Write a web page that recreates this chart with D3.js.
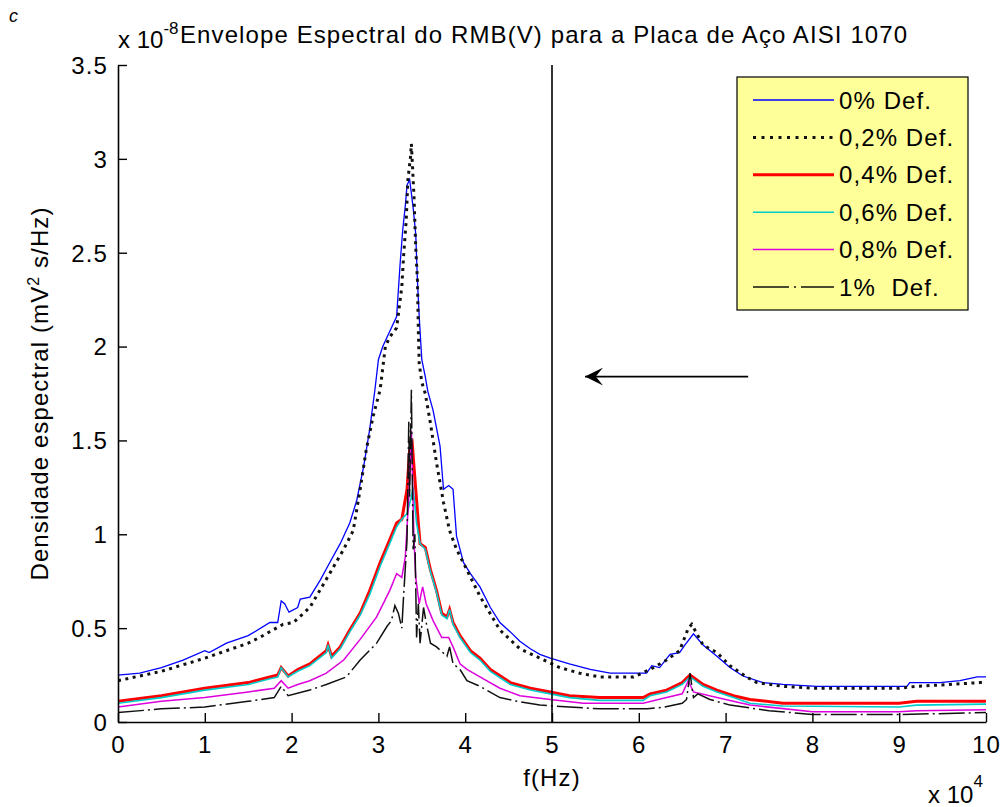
<!DOCTYPE html>
<html>
<head>
<meta charset="utf-8">
<script src="https://cdn.jsdelivr.net/npm/d3@7"></script>
<style>
  body { margin: 0; background: #fff; }
  svg { font-family: "Liberation Sans", Arial, Helvetica, sans-serif; }
  svg text { letter-spacing: 1.1px; }
</style>
</head>
<body>
<svg id="chart" width="1003" height="807"></svg>
<script>
// Frequency in units of 1e4 Hz, spectral density in units of 1e-8 mV^2 s/Hz
const labels = ["0% Def.", "0,2% Def.", "0,4% Def.", "0,6% Def.", "0,8% Def.", "1%  Def."];

const def00 = [[0,0.25],[0.25,0.26],[0.5,0.29],[0.75,0.33],[1.0,0.38],[1.05,0.37],[1.25,0.42],[1.5,0.46],[1.75,0.53],[1.84,0.53],[1.88,0.645],[1.92,0.63],[1.97,0.585],[2.07,0.61],[2.1,0.655],[2.21,0.665],[2.33,0.756],[2.44,0.85],[2.56,0.95],[2.67,1.06],[2.75,1.18],[2.83,1.36],[2.9,1.56],[2.96,1.77],[3.0,1.93],[3.05,2.0],[3.13,2.08],[3.21,2.16],[3.23,2.3],[3.25,2.44],[3.28,2.62],[3.31,2.75],[3.33,2.86],[3.36,2.89],[3.4,2.74],[3.43,2.6],[3.45,2.35],[3.47,2.16],[3.5,1.93],[3.54,1.84],[3.57,1.76],[3.63,1.66],[3.71,1.47],[3.75,1.24],[3.81,1.26],[3.86,1.24],[3.9,0.99],[3.98,0.85],[4.06,0.79],[4.17,0.72],[4.29,0.61],[4.4,0.53],[4.52,0.48],[4.63,0.43],[4.75,0.39],[4.86,0.36],[4.98,0.34],[5.2,0.31],[5.44,0.28],[5.67,0.26],[5.9,0.26],[6.09,0.26],[6.15,0.30],[6.24,0.29],[6.36,0.36],[6.47,0.37],[6.53,0.41],[6.63,0.47],[6.74,0.41],[6.9,0.35],[7.05,0.29],[7.2,0.245],[7.43,0.21],[7.66,0.2],[8.05,0.19],[9.09,0.19],[9.12,0.21],[9.47,0.21],[9.7,0.22],[9.9,0.24],[10,0.24]];

const def02 = [[0,0.22],[0.5,0.27],[1.0,0.34],[1.5,0.42],[1.63,0.45],[1.9,0.52],[2.02,0.53],[2.21,0.61],[2.4,0.76],[2.6,0.92],[2.71,1.02],[2.79,1.24],[2.86,1.45],[2.94,1.63],[3.02,1.77],[3.08,2.0],[3.13,2.05],[3.21,2.1],[3.27,2.32],[3.29,2.48],[3.32,2.67],[3.34,2.89],[3.37,3.01],[3.38,3.08],[3.41,2.8],[3.43,2.53],[3.45,2.35],[3.46,2.09],[3.47,1.91],[3.5,1.81],[3.54,1.75],[3.6,1.59],[3.67,1.38],[3.75,1.17],[3.82,1.02],[3.9,0.92],[4.02,0.81],[4.17,0.67],[4.4,0.49],[4.63,0.39],[4.86,0.34],[5.09,0.29],[5.32,0.26],[5.55,0.24],[5.94,0.24],[6.13,0.28],[6.32,0.33],[6.47,0.38],[6.57,0.5],[6.61,0.52],[6.74,0.41],[6.9,0.37],[7.05,0.3],[7.24,0.24],[7.36,0.21],[7.66,0.19],[8.0,0.18],[9.0,0.18],[9.2,0.19],[9.58,0.2],[9.93,0.21],[10,0.21]];

const def04 = [[0,0.11],[0.5,0.14],[1.0,0.18],[1.5,0.21],[1.75,0.24],[1.84,0.25],[1.88,0.29],[1.96,0.245],[2.07,0.28],[2.21,0.31],[2.4,0.38],[2.42,0.41],[2.46,0.35],[2.56,0.4],[2.67,0.49],[2.79,0.58],[2.9,0.7],[3.02,0.85],[3.13,0.97],[3.21,1.06],[3.27,1.08],[3.33,1.24],[3.36,1.45],[3.39,1.48],[3.43,1.24],[3.46,1.06],[3.48,0.95],[3.54,0.93],[3.6,0.81],[3.67,0.7],[3.73,0.58],[3.79,0.56],[3.82,0.6],[3.86,0.53],[3.94,0.46],[4.06,0.38],[4.17,0.34],[4.29,0.28],[4.52,0.21],[4.75,0.18],[4.98,0.16],[5.2,0.14],[5.55,0.13],[6.05,0.13],[6.13,0.15],[6.32,0.17],[6.5,0.21],[6.59,0.25],[6.74,0.2],[6.9,0.17],[7.09,0.14],[7.28,0.12],[7.66,0.1],[9.0,0.1],[9.2,0.11],[10,0.11]];

const def06 = [[0,0.10],[0.5,0.13],[1.0,0.17],[1.5,0.2],[1.75,0.23],[1.84,0.24],[1.88,0.29],[1.96,0.24],[2.07,0.27],[2.21,0.3],[2.4,0.37],[2.42,0.41],[2.46,0.34],[2.56,0.39],[2.67,0.48],[2.79,0.57],[2.9,0.68],[3.02,0.83],[3.13,0.95],[3.21,1.04],[3.27,1.08],[3.33,1.11],[3.38,1.2],[3.4,1.25],[3.44,1.06],[3.48,0.95],[3.54,0.92],[3.6,0.8],[3.67,0.69],[3.73,0.57],[3.79,0.55],[3.82,0.6],[3.86,0.52],[3.94,0.45],[4.06,0.37],[4.17,0.33],[4.29,0.27],[4.52,0.2],[4.75,0.17],[4.98,0.15],[5.2,0.13],[5.55,0.115],[6.05,0.115],[6.13,0.14],[6.32,0.16],[6.5,0.2],[6.59,0.24],[6.74,0.19],[6.9,0.16],[7.09,0.13],[7.28,0.1],[7.66,0.085],[9.0,0.08],[9.2,0.09],[10,0.095]];

const def08 = [[0,0.08],[0.5,0.11],[1.0,0.13],[1.5,0.16],[1.8,0.18],[1.88,0.22],[1.96,0.18],[2.07,0.2],[2.21,0.22],[2.4,0.26],[2.6,0.33],[2.79,0.44],[2.98,0.56],[3.13,0.7],[3.21,0.79],[3.27,0.77],[3.31,0.88],[3.35,1.2],[3.38,1.55],[3.41,0.97],[3.43,0.77],[3.47,0.63],[3.5,0.7],[3.51,0.72],[3.55,0.63],[3.63,0.54],[3.73,0.45],[3.81,0.45],[3.86,0.4],[3.94,0.31],[4.02,0.28],[4.17,0.24],[4.4,0.18],[4.63,0.14],[4.98,0.12],[5.36,0.1],[6.05,0.1],[6.32,0.13],[6.5,0.15],[6.57,0.22],[6.63,0.16],[6.9,0.13],[7.28,0.09],[8.0,0.055],[9.0,0.055],[9.2,0.06],[10,0.065]];

const def10 = [[0,0.05],[0.5,0.07],[1.0,0.08],[1.5,0.11],[1.8,0.13],[1.88,0.19],[1.96,0.14],[2.21,0.17],[2.4,0.2],[2.63,0.24],[2.79,0.33],[2.98,0.42],[3.1,0.51],[3.15,0.54],[3.19,0.62],[3.23,0.58],[3.27,0.5],[3.29,0.67],[3.33,0.97],[3.35,1.6],[3.36,1.2],[3.38,1.77],[3.4,0.92],[3.42,1.0],[3.44,0.45],[3.46,0.63],[3.48,0.42],[3.52,0.61],[3.55,0.53],[3.6,0.42],[3.67,0.4],[3.79,0.35],[3.82,0.4],[3.86,0.31],[3.94,0.28],[4.02,0.22],[4.17,0.19],[4.4,0.13],[4.6,0.11],[4.86,0.09],[5.2,0.08],[5.55,0.07],[6.1,0.07],[6.3,0.08],[6.5,0.1],[6.55,0.12],[6.59,0.26],[6.63,0.13],[6.68,0.15],[6.82,0.12],[7.05,0.09],[7.5,0.06],[8.0,0.04],[9.0,0.04],[10,0.05]];

const xTicks = [0, 1, 2, 3, 4, 5, 6, 7, 8, 9, 10];
const yTicks = [0, 0.5, 1, 1.5, 2, 2.5, 3, 3.5];
const markerFreq = 5;                        // vertical reference line
const arrowFrom = [7.26, 1.84], arrowTo = [5.38, 1.84];

const styles = [
  { color: "#0000ff", width: 1.3, dash: null,        legendDash: null },
  { color: "#111111", width: 3,   dash: "3,4.5",     legendDash: "3,5.5" },
  { color: "#ff0000", width: 3,   dash: null,        legendDash: null },
  { color: "#00cccc", width: 1.6, dash: null,        legendDash: null },
  { color: "#dd00dd", width: 1.5, dash: null,        legendDash: null },
  { color: "#111111", width: 1.5, dash: "26,4,2,4",  legendDash: "36,5,2,5" }
];
const series = [def00, def02, def04, def06, def08, def10];

const svg = d3.select("#chart");
const plotLeft = 118, plotRight = 986, plotTop = 65, plotBottom = 722;
const x = d3.scaleLinear().domain([0, 10]).range([plotLeft, plotRight]);
const y = d3.scaleLinear().domain([0, 3.5]).range([plotBottom, plotTop]);
const FS = 24;

const defs = svg.append("defs");
defs.append("clipPath").attr("id", "plotArea")
  .append("rect").attr("x", plotLeft).attr("y", plotTop - 2)
  .attr("width", plotRight - plotLeft).attr("height", plotBottom - plotTop + 2);

// data lines
const line = d3.line().x(d => x(d[0])).y(d => y(d[1]));
const lines = svg.append("g").attr("clip-path", "url(#plotArea)");
series.forEach((s, i) => {
  const st = styles[i];
  lines.append("path").datum(s)
    .attr("d", line)
    .attr("fill", "none")
    .attr("stroke", st.color)
    .attr("stroke-width", st.width)
    .attr("stroke-linejoin", "miter")
    .attr("stroke-dasharray", st.dash);
});

// axes
const xAxis = d3.axisBottom(x).tickValues(xTicks).tickSize(-9).tickSizeOuter(0)
  .tickPadding(14).tickFormat(d => String(d));
const yAxis = d3.axisLeft(y).tickValues(yTicks).tickSize(-9).tickSizeOuter(0)
  .tickPadding(10).tickFormat(d => String(d));

const gx = svg.append("g").attr("transform", `translate(0,${plotBottom})`).call(xAxis);
const gy = svg.append("g").attr("transform", `translate(${plotLeft},0)`).call(yAxis);
[gx, gy].forEach(g => {
  g.select(".domain").attr("stroke", "#000").attr("stroke-width", 1.6);
  g.selectAll(".tick line").attr("stroke", "#000").attr("stroke-width", 1.4);
  g.selectAll(".tick text").attr("fill", "#000")
    .style("font-size", FS + "px")
    .style("font-family", '"Liberation Sans", Arial, sans-serif');
});
gx.selectAll(".tick text").attr("dy", "0.71em");
gy.selectAll(".tick text").attr("dy", "0.35em");

// vertical reference line at 5e4 Hz
svg.append("line")
  .attr("x1", x(markerFreq)).attr("x2", x(markerFreq))
  .attr("y1", y(0)).attr("y2", y(3.5))
  .attr("stroke", "#000").attr("stroke-width", 1.6);

// arrow pointing left, head at arrowTo
defs.append("marker").attr("id", "arrowHead")
  .attr("viewBox", "0 0 10 10").attr("refX", 10).attr("refY", 5)
  .attr("markerWidth", 24).attr("markerHeight", 18)
  .attr("markerUnits", "userSpaceOnUse").attr("orient", "auto")
  .append("path").attr("d", "M0,0 L10,5 L0,10 L4,5 Z").attr("fill", "#000");
svg.append("line")
  .attr("x1", x(arrowFrom[0])).attr("y1", y(arrowFrom[1]))
  .attr("x2", x(arrowTo[0])).attr("y2", y(arrowTo[1]))
  .attr("stroke", "#000").attr("stroke-width", 1.6)
  .attr("marker-end", "url(#arrowHead)");

// title with exponent
const title = svg.append("g");
const t1 = title.append("text").attr("x", plotLeft).attr("y", 48).style("font-size", FS + "px")
  .style("letter-spacing", "0px");
t1.append("tspan").text("x 10");
t1.append("tspan").attr("dy", -14).style("font-size", "17px").text("-8");
title.append("text").attr("x", 180).attr("y", 43).style("font-size", FS + "px")
  .text("Envelope Espectral do RMB(V) para a Placa de Aço AISI 1070");

// panel letter
svg.append("text").attr("x", 9).attr("y", 22).style("font-size", "18px")
  .style("font-style", "italic").text("c");

// axis labels
svg.append("text").attr("x", x(5)).attr("y", 786).attr("text-anchor", "middle")
  .style("font-size", FS + "px").text("f(Hz)");

const xe = svg.append("text").attr("x", 928).attr("y", 803).style("font-size", FS + "px")
  .style("letter-spacing", "0px");
xe.append("tspan").text("x 10");
xe.append("tspan").attr("dy", -16).style("font-size", "17px").text("4");

const yl = svg.append("text")
  .attr("transform", `translate(48,${(plotTop + plotBottom) / 2}) rotate(-90)`)
  .attr("text-anchor", "middle").style("font-size", FS + "px");
yl.append("tspan").text("Densidade espectral (mV");
yl.append("tspan").attr("dy", -9).style("font-size", "16px").text("2");
yl.append("tspan").attr("dy", 9).text(" s/Hz)");

// legend
const lg = svg.append("g");
lg.append("rect").attr("x", 737).attr("y", 77).attr("width", 231).attr("height", 233)
  .attr("fill", "#ffff99").attr("stroke", "#000").attr("stroke-width", 1.2);
labels.forEach((name, i) => {
  const st = styles[i];
  const cy = 100 + i * 37.4;
  lg.append("line").attr("x1", 753).attr("x2", 834).attr("y1", cy).attr("y2", cy)
    .attr("stroke", st.color).attr("stroke-width", st.width)
    .attr("stroke-dasharray", st.legendDash);
  lg.append("text").attr("x", 839).attr("y", cy).attr("dy", "0.36em")
    .style("font-size", FS + "px").style("white-space", "pre").text(name);
});
</script>
</body>
</html>
